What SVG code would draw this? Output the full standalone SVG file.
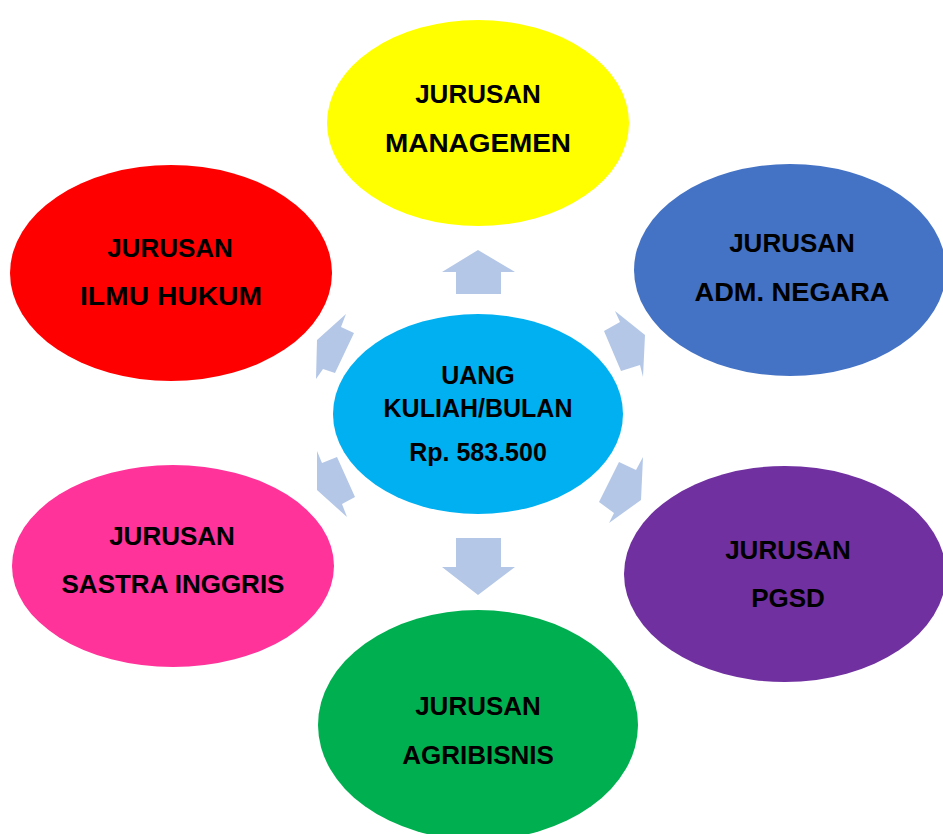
<svg xmlns="http://www.w3.org/2000/svg" width="943" height="834" viewBox="0 0 943 834">
<style>
text{font-family:"Liberation Sans",Arial,sans-serif;font-weight:bold;fill:#000;text-anchor:middle}
.n{font-size:26px}
.c{font-size:25px}
.arr{fill:#B4C7E7}
</style>
<rect width="943" height="834" fill="#fff"/>
<g id="connectors">
<polygon class="arr" points="478,250 515,272 501,272 501,294 456,294 456,272 442,272"/>
<polygon class="arr" points="456,538 501,538 501,567 515,567 478,595 442,567 456,567"/>
<polygon class="arr" points="615,311 620,322 604,331 621,371 640,365 643,377 645,335"/>
<polygon class="arr" points="643,457 636,470 619,462 599,502 614,513 609,523 641,500"/>
<polygon class="arr" points="346,314 341,327 354,333 335,373 323,369 316,379 317,340"/>
<polygon class="arr" points="317,451 322,463 337,457 355,497 342,504 347,517 317,490"/>
</g>
<g id="center">
<ellipse cx="478" cy="414" rx="145" ry="100" fill="#00B0F0"/>
<text class="c" x="478" y="384">UANG</text>
<text class="c" x="478" y="417">KULIAH/BULAN</text>
<text class="c" x="478" y="461">Rp. 583.500</text>
</g>
<g id="managemen">
<ellipse cx="478" cy="123" rx="151" ry="103" fill="#FFFF00"/>
<text class="n" x="478" y="103">JURUSAN</text>
<text class="n" x="478" y="152" textLength="186" lengthAdjust="spacingAndGlyphs">MANAGEMEN</text>
</g>
<g id="adm-negara">
<ellipse cx="790" cy="270" rx="156" ry="106" fill="#4472C4"/>
<text class="n" x="792" y="252">JURUSAN</text>
<text class="n" x="792" y="301" textLength="195" lengthAdjust="spacingAndGlyphs">ADM. NEGARA</text>
</g>
<g id="ilmu-hukum">
<ellipse cx="171" cy="273" rx="161" ry="108" fill="#FF0000"/>
<text class="n" x="170" y="257">JURUSAN</text>
<text class="n" x="171" y="305" textLength="182" lengthAdjust="spacingAndGlyphs">ILMU HUKUM</text>
</g>
<g id="sastra-inggris">
<ellipse cx="173" cy="566" rx="161" ry="101" fill="#FF3399"/>
<text class="n" x="172" y="545">JURUSAN</text>
<text class="n" x="173" y="593">SASTRA INGGRIS</text>
</g>
<g id="pgsd">
<ellipse cx="785" cy="574" rx="161" ry="108" fill="#7030A0"/>
<text class="n" x="788" y="559">JURUSAN</text>
<text class="n" x="788" y="607">PGSD</text>
</g>
<g id="agribisnis">
<ellipse cx="478" cy="725" rx="160" ry="115" fill="#00B050"/>
<text class="n" x="478" y="715">JURUSAN</text>
<text class="n" x="478" y="764">AGRIBISNIS</text>
</g>
</svg>
